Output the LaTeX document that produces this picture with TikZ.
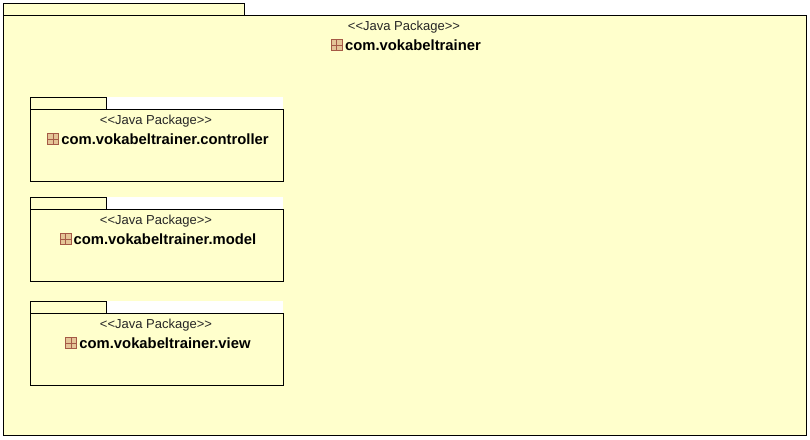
\documentclass[tikz,border=0pt]{standalone}
\usepackage{fontspec}
\setmainfont{Liberation Sans}
\usepackage{tikz}
\usetikzlibrary{positioning}
\definecolor{pkgyellow}{RGB}{255,255,204}
\definecolor{pkgicon}{RGB}{228,196,150}
\definecolor{pkgline}{RGB}{165,90,70}
\tikzset{
  pkgbox/.style={draw=black,fill=pkgyellow,line width=1pt,anchor=north west,inner sep=0pt,outer sep=0pt},
  stereo/.style={font=\fontsize{13}{15}\selectfont,inner sep=0pt,text=black!85},
  pkgname/.style={font=\fontsize{14.8}{17}\selectfont\bfseries,inner sep=0pt},
  pkgglyph/.style={draw=pkgline,fill=pkgicon,line width=.5pt,minimum size=11pt,inner sep=0pt,
    path picture={\draw[pkgline,line width=.5pt]
      (path picture bounding box.north) -- (path picture bounding box.south)
      (path picture bounding box.west) -- (path picture bounding box.east);}}
}
\begin{document}
\begin{tikzpicture}[x=1pt,y=-1pt]
            \useasboundingbox[fill=white] (0,0) rectangle (810,439);
            % outer package
            \node[pkgbox,minimum width=241pt,minimum height=12pt] (roottab) at (3,3) {};
            \node[pkgbox,minimum width=803pt,minimum height=420pt] (rootbody) at (3,15) {};
            \node[stereo] (rootstereo) at (404,27.5) {<{}<Java Package>{}>};
            \node[pkgname] (rootname) at (413,45) {com.vokabeltrainer};
            \node[pkgglyph,left=2.5pt of rootname] (rooticon) {};
            % sub packages
            \foreach \y/\n in {97/controller,197/model,301/view} {
              \fill[white] (106,\y) rectangle (283,\y+12);
              \node[pkgbox,minimum width=76pt,minimum height=12pt] (\n tab) at (30,\y) {};
              \node[pkgbox,minimum width=253pt,minimum height=72pt] (\n body) at (30,\y+12) {};
              \node[stereo] (\n stereo) at (156,\y+24.5) {<{}<Java Package>{}>};
              \node[pkgname] (\n name) at (165,\y+42) {com.vokabeltrainer.\n};
              \node[pkgglyph,left=2.5pt of \n name] (\n icon) {};
            }
        \end{tikzpicture}
\end{document}
